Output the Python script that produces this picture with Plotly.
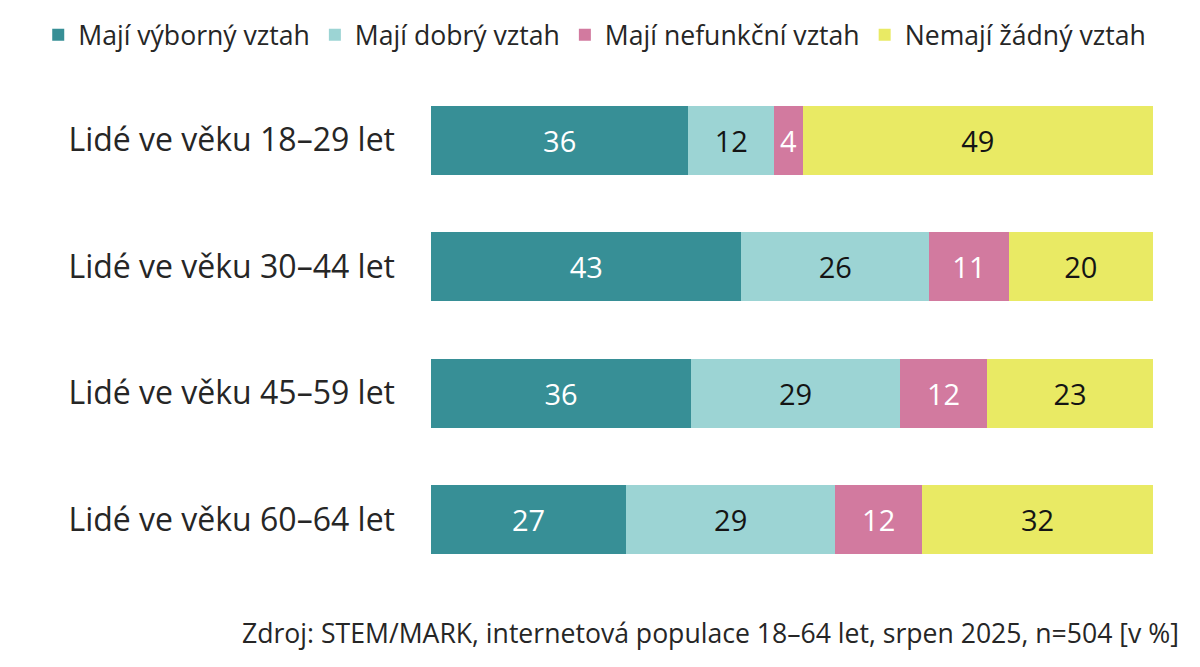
import plotly.graph_objects as go

# ---------- data ----------
kategorie = ["Lidé ve věku 18–29 let", "Lidé ve věku 30–44 let",
             "Lidé ve věku 45–59 let", "Lidé ve věku 60–64 let"]

vyborny = [36, 43, 36, 27]
dobry = [12, 26, 29, 29]
nefunkcni = [4, 11, 12, 12]
zadny = [49, 20, 23, 32]

serie = [
    ("Mají výborný vztah", vyborny, "#378f96", "white"),
    ("Mají dobrý vztah", dobry, "#9cd4d4", "#141414"),
    ("Mají nefunkční vztah", nefunkcni, "#d27a9f", "white"),
    ("Nemají žádný vztah", zadny, "#e9ea64", "#141414"),
]

FONT = "Open Sans, Noto Sans, sans-serif"

fig = go.Figure()
for nazev, hodnoty, barva, barva_textu in serie:
    fig.add_trace(go.Bar(
        y=kategorie, x=hodnoty, name=nazev, orientation="h",
        marker=dict(color=barva, line=dict(width=0)),
        text=hodnoty, texttemplate="%{text}", textposition="inside",
        insidetextanchor="middle", constraintext="none",
        textfont=dict(color=barva_textu, size=29, family=FONT),
    ))

# radek 1 nedava 100 kvuli zaokrouhleni -> normovat na 100 %
fig.update_layout(
    barmode="stack",
    barnorm="percent",
    bargap=0.455,
    width=1200, height=667,
    margin=dict(l=423, r=55, t=69, b=92, autoexpand=False),
    paper_bgcolor="white", plot_bgcolor="white",
    font=dict(family=FONT, color="#262626"),
    legend=dict(orientation="h", xref="paper", yref="paper",
                x=-0.544, xanchor="left", y=1.083, yanchor="middle",
                font=dict(size=26.6, family=FONT), traceorder="normal",
                itemwidth=30),
    showlegend=True,
)
fig.update_xaxes(visible=False, range=[0, 100])
fig.update_yaxes(autorange="reversed", showline=False, showgrid=False,
                 ticks="", ticklabelstandoff=35,
                 tickfont=dict(size=32, family=FONT, color="#262626"))

fig.add_annotation(
    text="Zdroj: STEM/MARK, internetová populace 18–64 let, srpen 2025, n=504 [v %]",
    xref="paper", yref="paper", x=1.0388, y=-0.0988, xanchor="right", yanchor="middle",
    showarrow=False, font=dict(size=26.6, family=FONT, color="#262626"),
)

fig.write_html("out.html")
